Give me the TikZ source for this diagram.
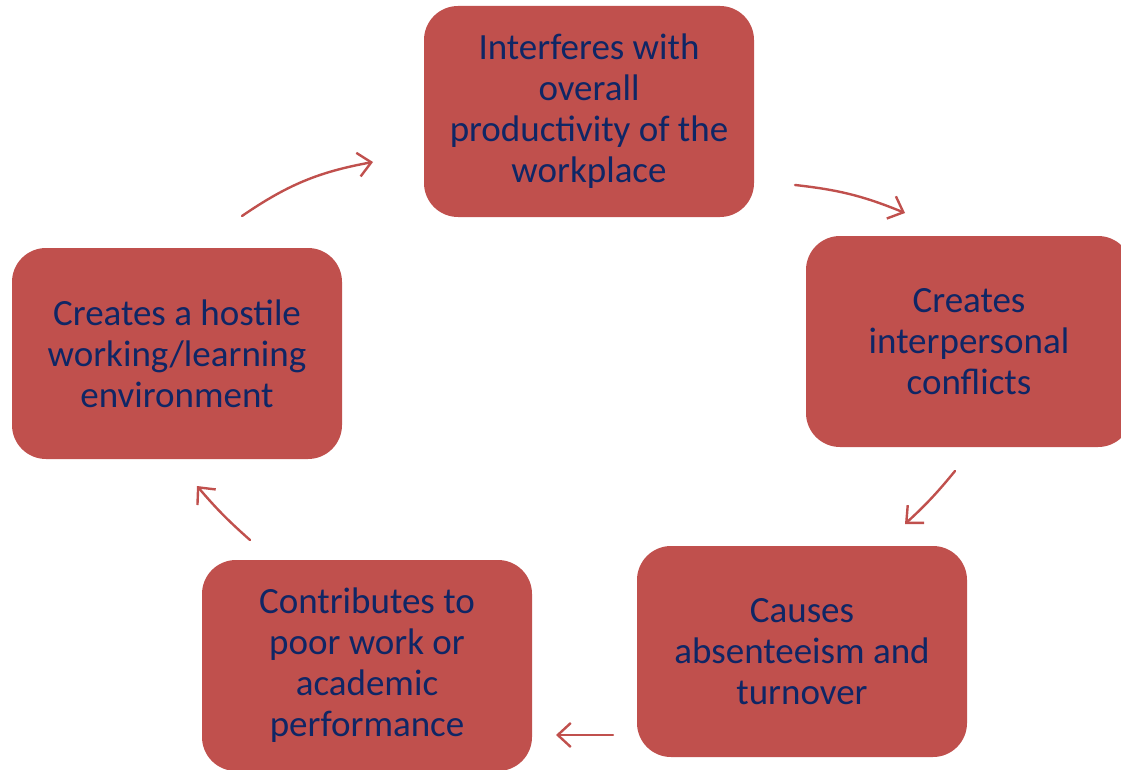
\documentclass[tikz,border=0pt]{standalone}
\usepackage{fontspec}
\setmainfont{Carlito}
\usetikzlibrary{arrows.meta}
\definecolor{boxred}{HTML}{C0504D}
\definecolor{navytext}{HTML}{0F2665}
\tikzset{
  cyclebox/.style={rectangle, rounded corners=34pt, fill=boxred,
    minimum width=330pt, minimum height=211pt, inner sep=0pt,
    align=center, text=navytext,
    font=\fontsize{37}{41}\selectfont},
  cyclearrow/.style={draw=boxred, line width=2.4pt, line cap=round,
    -{Straight Barb[length=13pt, width=24pt, line width=2.4pt]}}
}
\begin{document}
\begin{tikzpicture}[x=1pt, y=-1pt]
  \useasboundingbox (0,0) rectangle (1121,770);

  % five stages of the cycle
  \node[cyclebox] (prod) at (589,111.5)
    {Interferes with\\overall\\productivity of the\\workplace};
  \node[cyclebox, minimum width=326pt] (conf) at (969,341.5)
    {Creates\\interpersonal\\conflicts};
  \node[cyclebox] (abs) at (802,651.5)
    {Causes\\absenteeism and\\turnover};
  \node[cyclebox] (perf) at (367,665.5)
    {Contributes to\\poor work or\\academic\\performance};
  \node[cyclebox] (host) at (177,353.5)
    {Creates a hostile\\working/learning\\environment};

  % arrow end points between the stages
  \coordinate (a1) at (242,216);  \coordinate (b1) at (373,162);
  \coordinate (a2) at (795,185);  \coordinate (b2) at (905,213);
  \coordinate (a3) at (955,471);  \coordinate (b3) at (905,524);
  \coordinate (a4) at (613,735);  \coordinate (b4) at (556,735);
  \coordinate (a5) at (250,540);  \coordinate (b5) at (197,486);

  \draw[cyclearrow] (a1) to[bend left=12] (b1);
  \draw[cyclearrow] (a2) to[bend left=8] (b2);
  \draw[cyclearrow] (a3) to[bend left=4] (b3);
  \draw[cyclearrow] (a4) -- (b4);
  \draw[cyclearrow] (a5) to[bend left=4] (b5);
\end{tikzpicture}
\end{document}
